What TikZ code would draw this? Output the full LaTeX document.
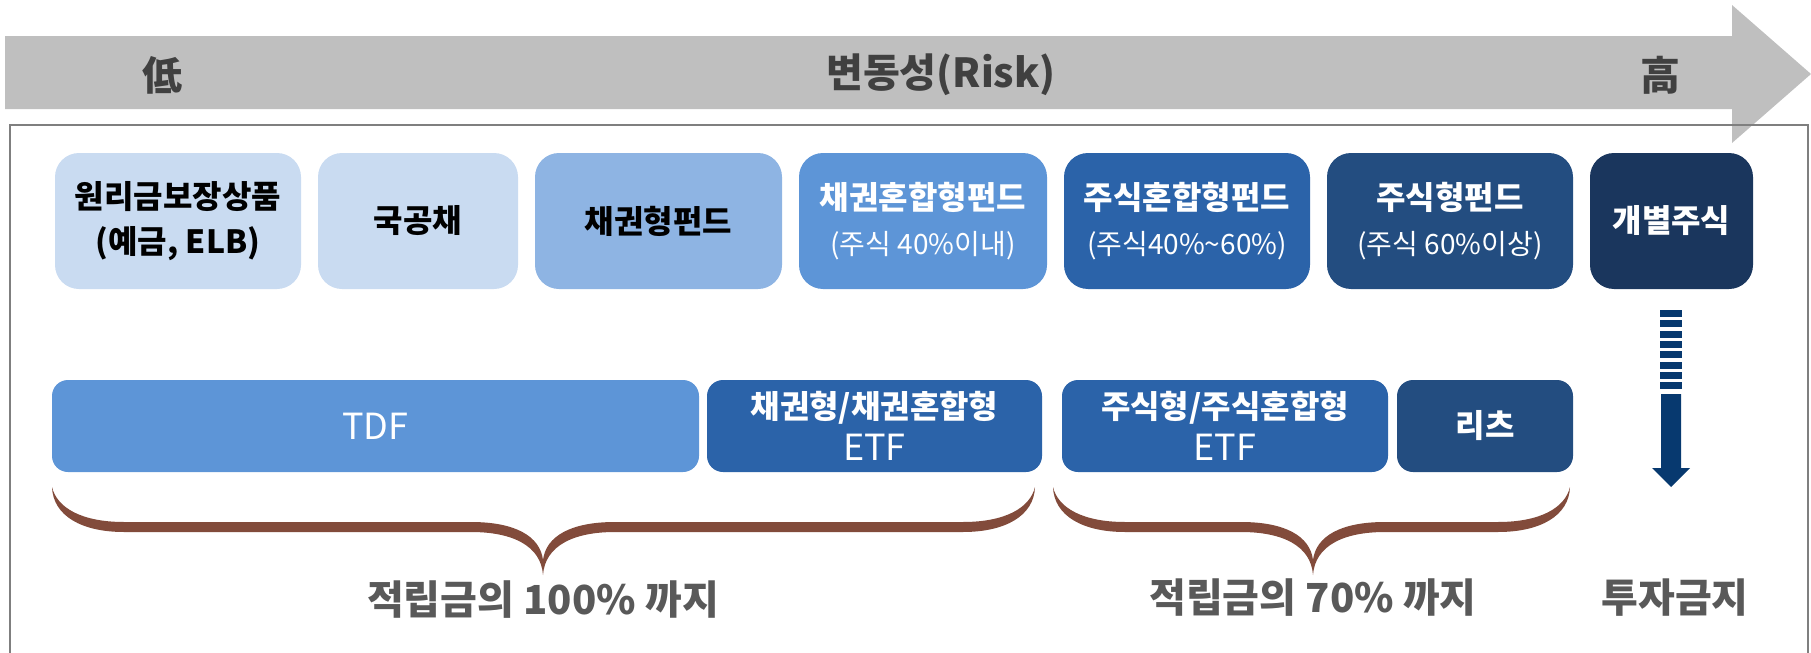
\documentclass[tikz,border=0pt]{standalone}
\usepackage{fontspec}
\setmainfont{Noto Sans CJK KR}
\usepackage{xcolor}
\usepackage{tikz}
\usetikzlibrary{positioning}
\usetikzlibrary{calc}

\definecolor{bandgray}{HTML}{BFBFBF}
\definecolor{framegray}{HTML}{7F7F7F}
\definecolor{titlegray}{HTML}{404040}
\definecolor{labelgray}{HTML}{595959}
\definecolor{tonea}{HTML}{C9DBF1}
\definecolor{toneb}{HTML}{8EB4E3}
\definecolor{tonec}{HTML}{5D95D7}
\definecolor{toned}{HTML}{2B63A9}
\definecolor{tonee}{HTML}{234D80}
\definecolor{tonef}{HTML}{1A365D}
\definecolor{bracebrown}{HTML}{824B3B}
\definecolor{arrowblue}{HTML}{07396F}

\newcommand{\subline}[1]{{\mdseries\fontsize{14}{16}\selectfont #1}}
\newcommand{\latinpart}[1]{{\mdseries\fontsize{18}{21}\selectfont #1}}
% left end, tip, right end
\newcommand{\fundbrace}[3]{%
\fill[bracebrown] (#1,487) .. controls ({#1+1},516) and ({#1+30},532) .. ({#1+72},532)
  -- ({#2-72},532) .. controls ({#2-30},532) and ({#2-2},546) .. (#2,575)
  .. controls ({#2+2},546) and ({#2+30},532) .. ({#2+72},532)
  -- ({#3-72},532) .. controls ({#3-30},532) and ({#3-1},516) .. (#3,487)
  .. controls ({#3-5},508) and ({#3-30},522) .. ({#3-72},522)
  -- ({#2+72},522) .. controls ({#2+28},522) and ({#2+3},536) .. (#2,560)
  .. controls ({#2-3},536) and ({#2-28},522) .. ({#2-72},522)
  -- ({#1+72},522) .. controls ({#1+30},522) and ({#1+5},508) .. (#1,487) -- cycle;}

\begin{document}
\begin{tikzpicture}[x=0.5pt, y=-0.5pt, node distance=8.5pt,
  every node/.style={inner sep=0pt, outer sep=0pt},
  fundbox/.style={rounded corners=12pt, minimum height=68pt, align=center, text=white, font=\bfseries\fontsize{16}{22.5}\selectfont},
  etfbox/.style={rounded corners=8pt, minimum height=46pt, align=center, text=white, font=\bfseries\fontsize{16}{21}\selectfont},
  risktext/.style={text=titlegray, font=\bfseries\fontsize{20}{24}\selectfont},
  limitlabel/.style={text=labelgray, font=\bfseries\fontsize{20}{24}\selectfont}]
\clip (0,0) rectangle (1811,653);

% risk band
\fill[bandgray] (5,36) -- (1732,36) -- (1732,5) -- (1811,74) -- (1732,143) -- (1732,109) -- (5,109) -- cycle;
\draw[framegray, line width=1.2pt] (10,700) -- (10,125) -- (1808,125) -- (1808,700);
\node[risktext] (low) at (162,75) {低};
\node[risktext] (risk) at (941,75) {변동성(Risk)};
\node[risktext] (high) at (1660,75) {高};

% funds
\node[fundbox, fill=tonea, text=black, minimum width=123pt] (safe) at (178,221) {원리금보장상품\\(예금, ELB)};
\node[fundbox, fill=tonea, text=black, minimum width=100pt, right=of safe] (govbond) {국공채};
\node[fundbox, fill=toneb, text=black, minimum width=123.5pt, right=of govbond] (bondfund) {채권형펀드};
\node[fundbox, fill=tonec, minimum width=124pt, right=of bondfund] (bondmix) {채권혼합형펀드\\\subline{(주식 40\%이내)}};
\node[fundbox, fill=toned, minimum width=123pt, right=of bondmix] (stockmix) {주식혼합형펀드\\\subline{(주식40\%\textasciitilde60\%)}};
\node[fundbox, fill=tonee, minimum width=123pt, right=of stockmix] (stockfund) {주식형펀드\\\subline{(주식 60\%이상)}};
\node[fundbox, fill=tonef, minimum width=81.5pt, right=of stockfund] (single) {개별주식};

% etf row
\node[etfbox, fill=tonec, minimum width=323.5pt] (tdf) at (375.5,426) {\latinpart{TDF}};
\node[etfbox, fill=toned, minimum width=167.5pt, right=4pt of tdf] (bondetf) {채권형/채권혼합형\\\latinpart{ETF}};
\node[etfbox, fill=toned, minimum width=163pt, right=10pt of bondetf] (stocketf) {주식형/주식혼합형\\\latinpart{ETF}};
\node[etfbox, fill=tonee, minimum width=88pt, right=4.5pt of stocketf] (reits) {리츠};

% limits
\fundbrace{52}{543}{1035}
\fundbrace{1053}{1313}{1570}
\node[limitlabel] (full) at (543,600) {적립금의 100\% 까지};
\node[limitlabel] (part) at (1313,598) {적립금의 70\% 까지};
\node[limitlabel] (ban) at (1675,598) {투자금지};

% banned arrow
\foreach \i in {0,...,7}
  \fill[arrowblue] (1660,{310+10.3*\i}) rectangle (1682,{317+10.3*\i});
\fill[arrowblue] (1661,394) -- (1681,394) -- (1681,468) -- (1690,468) -- (1671,487) -- (1652,468) -- (1661,468) -- cycle;
\end{tikzpicture}
\end{document}
